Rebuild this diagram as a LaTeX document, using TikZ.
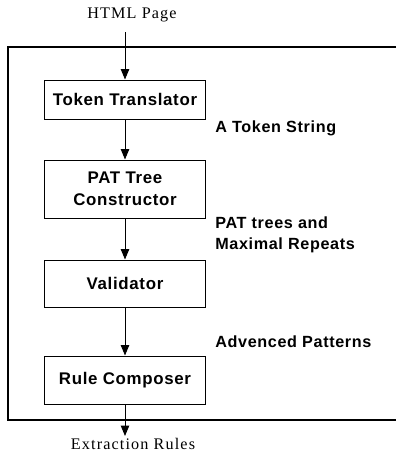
\documentclass[tikz,border=0pt]{standalone}
\usepackage{fontspec}
\setmainfont{Liberation Serif}
\setsansfont{Liberation Sans}
\usetikzlibrary{arrows.meta}

\begin{document}
\begin{tikzpicture}[
  x=0.025cm,y=-0.025cm,
  stage/.style={draw,line width=0.7pt,minimum width=4cm,align=center,inner sep=2pt,
    font=\sffamily\bfseries\fontsize{12}{15.5}\selectfont\addfontfeatures{LetterSpace=4}},
  datalabel/.style={anchor=west,align=left,inner sep=0pt,
    font=\sffamily\bfseries\fontsize{11.5}{15}\selectfont\addfontfeatures{LetterSpace=4}},
  ioname/.style={inner sep=2pt,font=\fontsize{11.5}{14}\selectfont\addfontfeatures{LetterSpace=7}},
  flow/.style={line width=0.7pt,-{Triangle[length=2.6mm,width=2.1mm]}},
]
\useasboundingbox (0,0) rectangle (399,461);
% outer frame, open to the right
\coordinate (ftr) at (396,47);
\coordinate (ftl) at (8,47);
\coordinate (fbl) at (8,420);
\coordinate (fbr) at (396,420);
\draw[line width=0.8pt] (ftr) -- (ftl) -- (fbl) -- (fbr);

\node[ioname] (html) at (132,15) {HTML Page};
\node[stage,minimum height=0.975cm] (tok) at (125,99.5) {Token Translator};
\node[stage,minimum height=1.45cm] (pat) at (125,189) {PAT Tree\\Constructor};
\node[stage,minimum height=1.175cm] (val) at (125,283.5) {Validator};
\node[stage,minimum height=1.2cm] (rule) at (125,380) {Rule Composer};
\node[ioname] (ext) at (133,444) {Extraction Rules};
\coordinate (top) at (125,32);
\coordinate (out) at (125,436);

\node[datalabel] (lab1) at (215,128) {A Token String};
\node[datalabel] (lab2) at (215,234.5) {PAT trees and\\Maximal Repeats};
\node[datalabel] (lab3) at (215,342) {Advenced Patterns};

\draw[flow] (top) -- (tok);
\draw[flow] (tok) -- (pat);
\draw[flow] (pat) -- (val);
\draw[flow] (val) -- (rule);
\draw[flow] (rule) -- (out);
\end{tikzpicture}
\end{document}
